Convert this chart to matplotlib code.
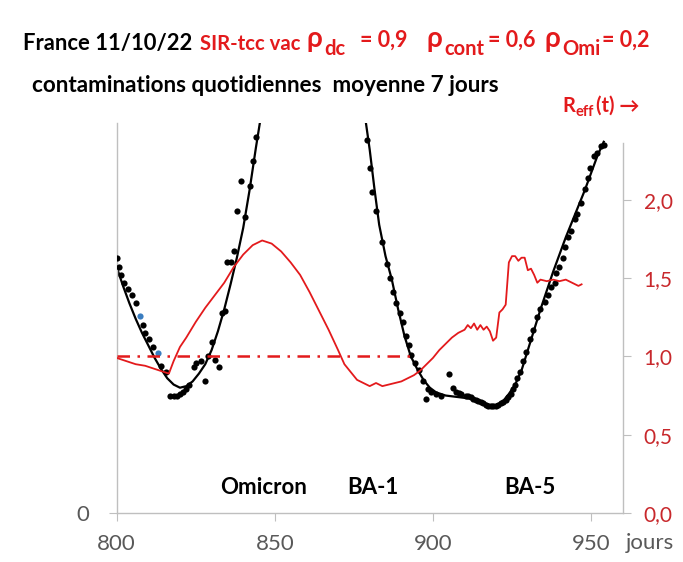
import matplotlib
matplotlib.use("Agg")
import matplotlib.pyplot as plt
from matplotlib.ticker import FixedLocator, FixedFormatter

plt.rcParams['font.family'] = ['Lato', 'DejaVu Sans']

# daily contaminations (7 day mean), arbitrary units
dots_days = [800.0, 800.6, 801.5, 802.4, 803.6, 804.7, 806.0, 808.2, 809.1, 810.3,
             811.4, 814.0, 815.5, 817.0, 818.0, 819.0, 820.0, 821.0, 822.0, 823.0,
             824.3, 825.2, 826.8, 828.0, 829.0, 830.0, 831.2, 832.2, 833.2, 834.4,
             835.0, 836.3, 837.2, 838.0, 839.4, 840.7, 842.3, 843.0, 844.2,
             879.0, 880.0, 880.6, 882.0, 884.0, 885.5, 886.4, 887.4, 888.3, 889.6,
             890.5, 891.5, 892.3, 893.2, 894.3, 895.5, 896.8, 897.8, 898.4, 899.4,
             901.0, 902.5, 905.0, 906.3, 907.3, 908.2, 909.0, 910.4, 911.2, 912.0,
             912.8, 913.6, 914.4, 915.1, 915.9, 916.7, 917.5, 918.3, 919.1, 919.9,
             920.7, 921.5, 922.3, 923.0, 923.8, 924.6, 925.2, 925.8, 926.6, 927.4,
             928.4, 929.3, 930.6, 931.6, 933.0, 934.0, 935.3, 936.3, 937.2, 938.5,
             939.0, 940.0, 941.0, 941.9, 942.8, 943.5, 944.8, 945.7, 946.7, 948.0,
             948.9, 949.8, 951.0, 952.0, 953.0, 954.0]
dots_vals = [1.63, 1.57, 1.52, 1.47, 1.43, 1.39, 1.34, 1.20, 1.15, 1.11,
             1.06, 0.94, 0.90, 0.75, 0.75, 0.75, 0.76, 0.77, 0.79, 0.82,
             0.93, 0.96, 0.97, 0.84, 1.00, 1.09, 0.98, 0.93, 1.28, 1.29,
             1.60, 1.60, 1.67, 1.93, 2.12, 1.89, 2.09, 2.25, 2.40,
             2.38, 2.20, 2.05, 1.93, 1.73, 1.59, 1.50, 1.41, 1.34, 1.28,
             1.22, 1.13, 1.07, 1.01, 0.96, 0.91, 0.84, 0.73, 0.79, 0.77,
             0.76, 0.75, 0.89, 0.80, 0.77, 0.765, 0.76, 0.75, 0.745, 0.74,
             0.73, 0.72, 0.715, 0.71, 0.70, 0.69, 0.685, 0.68, 0.68, 0.68,
             0.69, 0.70, 0.71, 0.72, 0.74, 0.76, 0.79, 0.82, 0.86, 0.90,
             0.97, 1.03, 1.11, 1.17, 1.25, 1.30, 1.35, 1.39, 1.44, 1.47,
             1.53, 1.57, 1.63, 1.70, 1.76, 1.80, 1.88, 1.91, 1.98, 2.07,
             2.14, 2.20, 2.28, 2.30, 2.34, 2.35]
blue_days = [807.3, 813.0]
blue_vals = [1.26, 1.02]

# SIR model fit (black curve), two waves
fit1_days = [800, 802, 804, 806, 808, 810, 812, 814, 816, 818, 820, 822, 824,
             826, 828, 830, 832, 834, 836, 838, 840, 842, 844, 845.5]
fit1_vals = [1.57, 1.45, 1.34, 1.24, 1.15, 1.07, 0.99, 0.92, 0.86, 0.82, 0.80,
             0.81, 0.84, 0.89, 0.95, 1.04, 1.16, 1.30, 1.46, 1.63, 1.82, 2.06,
             2.33, 2.52]
fit2_days = [878.6, 880, 881.5, 883, 885, 887, 889, 891, 893, 895, 897, 899,
             901, 904, 908, 912, 915, 918, 920, 922, 924, 926, 928, 930, 932,
             934, 936, 938, 940, 942, 944, 946, 948, 950, 952, 954]
fit2_vals = [2.52, 2.32, 2.07, 1.84, 1.64, 1.49, 1.30, 1.13, 1.00, 0.92, 0.85,
             0.80, 0.77, 0.75, 0.74, 0.73, 0.71, 0.69, 0.69, 0.71, 0.76, 0.82,
             0.91, 1.04, 1.17, 1.30, 1.42, 1.54, 1.65, 1.76, 1.86, 1.96, 2.06,
             2.17, 2.28, 2.37]

# effective reproduction number R_eff(t)
reff_days = [800, 803, 806, 809, 812, 815, 816.5, 818, 820, 822, 825, 828, 831,
             834, 837, 840, 843, 846, 849, 852, 855, 858, 861, 864, 867, 870,
             872, 874, 876, 878, 880, 882, 884, 886, 888, 890, 892, 894, 896,
             898, 900, 902, 904, 906, 908, 910, 911, 912, 913, 914, 915, 916,
             917, 918, 919, 920, 921, 922, 923, 924, 925, 926, 927, 928, 929,
             930, 931, 932, 933, 934, 936, 938, 940, 942, 944, 946, 947]
reff_vals = [0.99, 0.97, 0.95, 0.94, 0.92, 0.90, 0.89, 0.97, 1.06, 1.12, 1.22,
             1.31, 1.39, 1.47, 1.57, 1.65, 1.71, 1.74, 1.72, 1.67, 1.60, 1.52,
             1.41, 1.29, 1.17, 1.04, 0.95, 0.90, 0.85, 0.83, 0.81, 0.83, 0.81,
             0.82, 0.83, 0.84, 0.86, 0.88, 0.91, 0.95, 0.99, 1.04, 1.08, 1.12,
             1.15, 1.17, 1.20, 1.18, 1.21, 1.17, 1.20, 1.17, 1.19, 1.16, 1.10,
             1.12, 1.28, 1.30, 1.33, 1.60, 1.64, 1.64, 1.61, 1.63, 1.63, 1.55,
             1.56, 1.52, 1.47, 1.49, 1.48, 1.49, 1.48, 1.49, 1.47, 1.45, 1.46]
threshold_days = [800, 895]
threshold_vals = [1.0, 1.0]

x_ticks = [800, 850, 900, 950]
r_ticks = [0.0, 0.5, 1.0, 1.5, 2.0]
r_labels = ['0,0', '0,5', '1,0', '1,5', '2,0']

RED = '#e31a1c'
RED_LBL = '#c8282c'
GRAY = '#595959'
SPINE = '#bfbfbf'
W, H = 683, 562

fig = plt.figure(figsize=(W / 100, H / 100), dpi=100)
ax = fig.add_axes([116.7 / W, 1 - 513 / H, (622.7 - 116.7) / W, (513 - 123) / H])
ax2 = ax.twinx()

ax.plot(fit1_days, fit1_vals, color='black', lw=1.6, zorder=2)
ax.plot(fit2_days, fit2_vals, color='black', lw=1.6, zorder=2)
ax.scatter(dots_days, dots_vals, s=20, color='black', zorder=3, linewidths=0)
ax.scatter(blue_days, blue_vals, s=20, color='#3a7dc0', zorder=3, linewidths=0)

ax2.plot(reff_days, reff_vals, color=RED, lw=1.3)
ax2.plot(threshold_days, threshold_vals, color=RED, lw=1.8, dashes=[5, 3, 1, 3])

ax.set_xlim(800, 960)
ax.set_ylim(0, 2.49)
ax2.set_ylim(0, 2.49)

for a in (ax, ax2):
    a.spines['top'].set_visible(False)
    for s in ('left', 'right', 'bottom'):
        a.spines[s].set_color(SPINE)
        a.spines[s].set_linewidth(1.0)
ax.spines['right'].set_visible(False)
ax2.spines['left'].set_visible(False)
ax2.spines['bottom'].set_visible(False)
ax2.spines['right'].set_bounds(0, 2.36)

ax.xaxis.set_major_locator(FixedLocator(x_ticks))
ax.tick_params(axis='x', colors=SPINE, labelcolor=GRAY, labelsize=16, length=6, pad=9)
ax.yaxis.set_major_locator(FixedLocator([0]))
ax.yaxis.set_major_formatter(FixedFormatter(['0']))
ax.tick_params(axis='y', colors=SPINE, labelcolor=GRAY, labelsize=16, length=6, pad=14)

ax2.yaxis.set_major_locator(FixedLocator(r_ticks))
ax2.yaxis.set_major_formatter(FixedFormatter(r_labels))
ax2.tick_params(axis='y', colors=SPINE, labelcolor=RED_LBL, labelsize=15, length=6, pad=9)


def ftext(x, y, s, **kw):
    fig.text(x / W, 1 - y / H, s, va='baseline', ha='left', **kw)


# title line
ftext(23, 50, 'France 11/10/22', fontsize=15.8, fontweight='bold', color='black')
ftext(200, 50, 'SIR-tcc vac', fontsize=14.6, fontweight='bold', color=RED)
for xr, sub, xs, val, xv in [(307, 'dc', 324, '= 0,9', 360),
                             (427, 'cont', 444, '= 0,6', 488),
                             (545, 'Omi', 562, '= 0,2', 602)]:
    ftext(xr, 47, 'ρ', fontsize=20, fontweight='bold', color=RED)
    ftext(xs, 55, sub, fontsize=14.5, fontweight='bold', color=RED)
    ftext(xv, 47, val, fontsize=15.5, fontweight='bold', color=RED)

ftext(32, 92, 'contaminations quotidiennes  moyenne 7 jours', fontsize=16.2,
      fontweight='bold', color='black')

ftext(562, 112, 'R', fontsize=14.5, fontweight='bold', color=RED)
ftext(575, 116, 'eff', fontsize=10.5, fontweight='bold', color=RED)
ftext(596, 112, '(t) →', fontsize=14.5, fontweight='bold', color=RED)

# variant labels
ax.text(263.5 / W, 1 - 494 / H, 'Omicron', transform=fig.transFigure, ha='center',
        va='baseline', fontsize=16, fontweight='bold')
ax.text(373 / W, 1 - 494 / H, 'BA-1', transform=fig.transFigure, ha='center',
        va='baseline', fontsize=16, fontweight='bold')
ax.text(530 / W, 1 - 494 / H, 'BA-5', transform=fig.transFigure, ha='center',
        va='baseline', fontsize=16, fontweight='bold')

ftext(626, 549, 'jours', fontsize=16, color=GRAY)

fig.savefig('out.png', dpi=100)
